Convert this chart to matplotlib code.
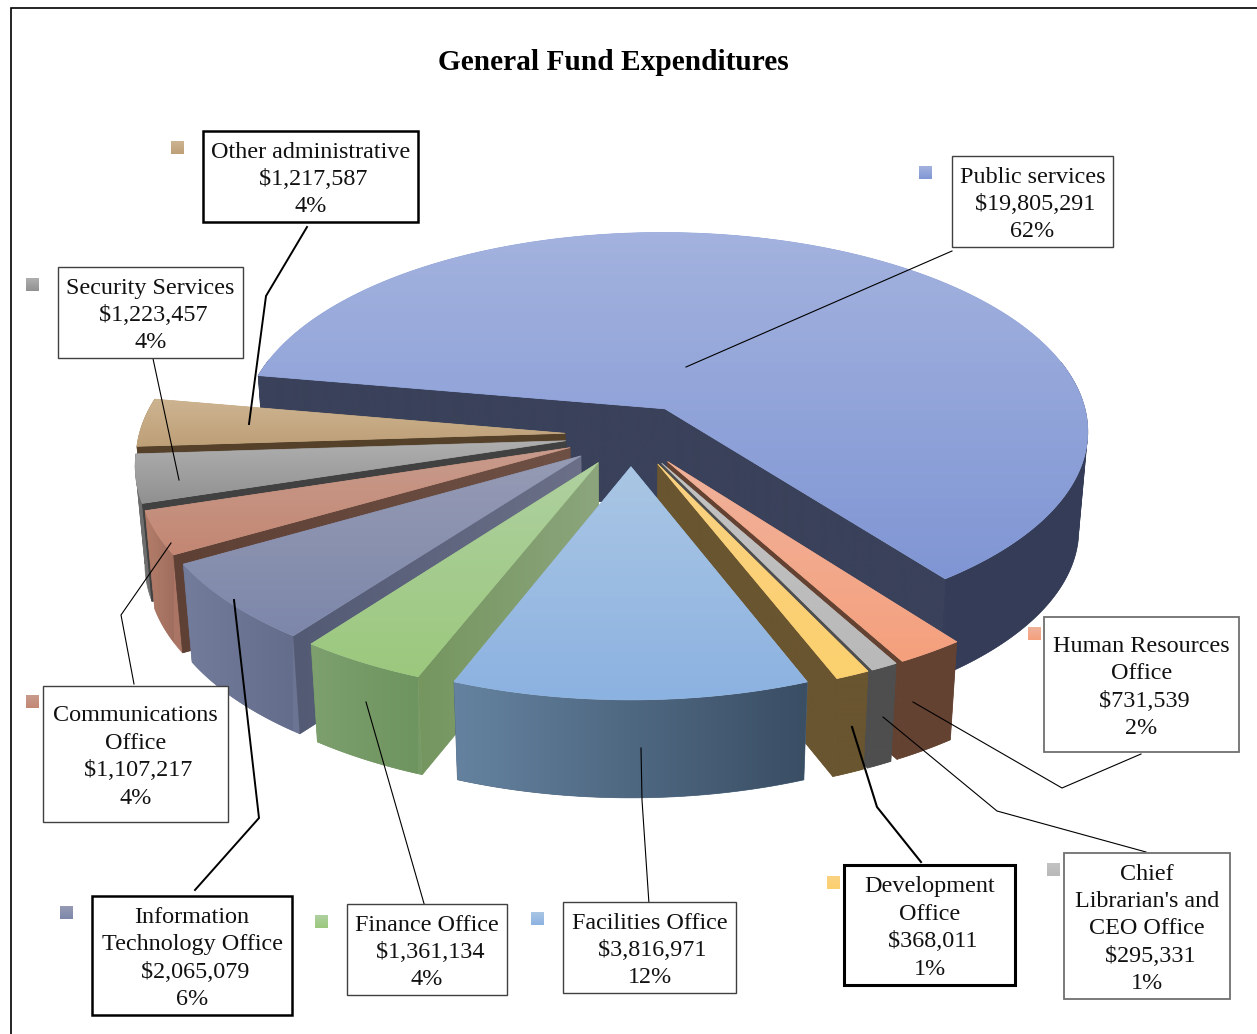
import numpy as np
import matplotlib
matplotlib.use('Agg')
from matplotlib import pyplot as plt
from matplotlib.patches import Polygon, Rectangle

plt.rcParams['font.family'] = ['Liberation Serif', 'DejaVu Serif']

# Data, in pie order (clockwise, Public services first)
names = ['Public services', 'Human Resources\nOffice', "Chief\nLibrarian's and\nCEO Office",
         'Development\nOffice', 'Facilities Office', 'Finance Office',
         'Information\nTechnology Office', 'Communications\nOffice',
         'Security Services', 'Other administrative']
values = [19805291, 731539, 295331, 368011, 3816971, 1361134, 2065079, 1107217, 1223457, 1217587]
percents = ['62%', '2%', '1%', '1%', '12%', '4%', '6%', '4%', '4%', '4%']

# Colours
top_light = ['#a3b2de', '#f0b29b', '#c3c3c3', '#fad282', '#aac6e4', '#afd0a0', '#969bb4', '#c89b8c', '#afafaf', '#cdb491']
top_dark = ['#8096d4', '#f5a07d', '#b9b9b9', '#fcd06e', '#8cb2e1', '#9bc87d', '#7d87aa', '#c38773', '#919191', '#bea078']
wall_left = ['#3a425a', '#644232', '#4e4e4e', '#69552f', '#64829f', '#7da06e', '#737d9b', '#b47d69', '#6e6e6e', '#96825a']
wall_right = ['#343c58', '#644232', '#4e4e4e', '#69552f', '#3a4e64', '#6e945f', '#646e8c', '#a06e5f', '#6e6e6e', '#96825a']
side_left = ['#3a415a', '#644232', '#4e4e4e', '#69552f', '#3a4e64', '#75965f', '#535a74', '#5f4035', '#414141', '#55412a']
side_right = ['#3a415a', '#644232', '#4e4e4e', '#69552f', '#3a4e64', '#8ca57d', '#6b7088', '#6e5045', '#414141', '#55412a']

# Layout in picture pixels
boxes = [(952, 156, 1113, 247), (1044, 617, 1239, 752), (1064, 853, 1230, 999), (844, 865, 1015, 985),
         (563, 902, 736, 993), (347, 904, 507, 995), (92, 896, 292, 1015), (43, 686, 228, 822),
         (58, 267, 243, 358), (203, 131, 418, 222)]
box_lw = [1, 1.3, 1.3, 2.2, 1, 1, 1.8, 1, 1, 1.8]
box_col = ['#404040', '#707070', '#707070', 'k', '#404040', '#404040', 'k', '#404040', '#404040', 'k']
leaders = [[(952, 251), (686, 367)], [(1141, 754), (1062, 788), (913, 702)],
           [(1146, 852), (997, 811), (883, 717)], [(921, 862), (877, 807), (852, 727)],
           [(649, 904), (642, 800), (641, 748)], [(425, 907), (366, 702)],
           [(195, 890), (259, 818), (234, 600)], [(134, 684), (121, 615), (171, 543)],
           [(152, 354), (179, 480)], [(307, 227), (266, 296), (249, 424)]]
leader_lw = [0.8, 0.8, 0.8, 1.5, 0.8, 0.8, 1.4, 0.8, 0.8, 1.4]
keys = [(919, 166), (1028, 627), (1047, 863), (827, 876), (531, 912), (315, 915), (60, 906), (26, 695), (26, 278), (171, 141)]

start_angle = -80.0
explode = 0.155
cx, cy = 631.0, 435.0
rx, ry = 426.0, 200.7
persp = 0.108
depth = 98.0
shrink = 0.02

# order the slices get painted in, back to front
paint_order = [0, 9, 8, 7, 6, 5, 1, 2, 3, 4]


def project(u, v, z=0.0):
    s = 1 / (1 - persp * v)
    return cx + rx * u * s / (1 + shrink * z), cy + ry * v * s + depth * z


def gradient(a, b, n=64):
    t = np.linspace(0, 1, n)[..., None]
    return np.array(matplotlib.colors.to_rgb(a)) * (1 - t) + np.array(matplotlib.colors.to_rgb(b)) * t


def fill_shape(outline, a, b, zorder, vertical=True, xrange=None):
    # polygon filled with a linear gradient, the image is clipped to the shape
    # a solid patch behind it smooths the edge, image clipping is not antialiased
    ramp = gradient(a, b)
    ax.add_patch(Polygon(outline, closed=True, facecolor=ramp[32], edgecolor=ramp[32], lw=0.5, zorder=zorder))
    ramp = ramp[:, None, :] if vertical else ramp[None, :, :]
    if xrange is None:
        xrange = (outline[:, 0].min(), outline[:, 0].max())
    ext = (xrange[0], xrange[1], outline[:, 1].max(), outline[:, 1].min())
    img = ax.imshow(ramp, aspect='auto', origin='upper', extent=ext, zorder=zorder + 0.5, interpolation='bilinear')
    clip = Polygon(outline, closed=True, transform=ax.transData, facecolor='none', edgecolor='none')
    ax.add_patch(clip)
    img.set_clip_path(clip)


fig = plt.figure(figsize=(12.57, 10.34), dpi=100)
ax = fig.add_axes([0, 0, 1, 1])

total = sum(values)
edges = start_angle + np.concatenate([[0], np.cumsum(values)]) / total * 360
z = 1
for i in paint_order:
    th = np.radians(np.linspace(edges[i], edges[i + 1], 400))
    mid = np.radians((edges[i] + edges[i + 1]) / 2)
    ax_u = explode * np.sin(mid)
    ax_v = -explode * np.cos(mid)
    x0, y0 = project(ax_u + np.sin(th), ax_v - np.cos(th), 0)
    x1, y1 = project(ax_u + np.sin(th), ax_v - np.cos(th), 1)
    apex0 = project(ax_u, ax_v, 0)
    apex1 = project(ax_u, ax_v, 1)

    # outer wall, cut where the rim turns so the pieces stay simple shapes
    front = -np.cos(th) > -0.25
    turn = np.sign(np.diff(x0, prepend=x0[0] - (x0[1] - x0[0])))
    cuts = np.flatnonzero((front[1:] != front[:-1]) | (turn[1:] != turn[:-1])) + 1
    for run in np.split(np.arange(len(th)), cuts):
        if len(run) > 1 and front[run[0]]:
            # one point of overlap so no seam is left at the cut
            run = np.append(run, min(run[-1] + 1, len(th) - 1))
            band = np.vstack([np.column_stack([x0[run], y0[run]]), np.column_stack([x1[run], y1[run]])[::-1]])
            fill_shape(band, wall_left[i], wall_right[i], z, vertical=False, xrange=(x0.min(), x0.max()))
            z += 1

    # radial walls, only the ones that face the viewer
    for e, facing in ((0, -np.sin(th[0])), (-1, np.sin(th[-1]))):
        if facing > 0:
            wall = np.array([apex0, (x0[e], y0[e]), (x1[e], y1[e]), apex1])
            fill_shape(wall, side_left[i], side_right[i], z, vertical=False)
            z += 1

    # top face
    outline = np.vstack([[apex0], np.column_stack([x0, y0])])
    fill_shape(outline, top_light[i], top_dark[i], z)
    z += 1

# leader lines, boxes and labels
for i in range(len(names)):
    pts = np.array(leaders[i])
    ax.plot(pts[:, 0], pts[:, 1], color='k', lw=leader_lw[i], zorder=z + 1, solid_joinstyle='miter')
    bx0, by0, bx1, by1 = boxes[i]
    ax.add_patch(Rectangle((bx0, by0), bx1 - bx0, by1 - by0, facecolor='white', edgecolor=box_col[i], lw=box_lw[i], zorder=z + 2))
    # the leading space pushes the amount a little right, as in the original labels
    label = '{}\n ${:,}\n{}'.format(names[i], values[i], percents[i])
    ax.text((bx0 + bx1) / 2, (by0 + by1) / 2 + 3, label, ha='center', va='center', fontsize=17.4, linespacing=1.4,
            color='#111111', zorder=z + 3)
    kx, ky = keys[i]
    ax.imshow(gradient(top_light[i], top_dark[i])[:, None, :], aspect='auto', origin='upper',
              extent=(kx, kx + 13, ky + 13, ky), zorder=z + 3)

ax.text(613, 63, 'General Fund Expenditures', ha='center', va='center', fontsize=21.2, fontweight='bold', color='k')

# chart frame, cut off at the right and the bottom
ax.plot([11, 11, 1257], [1034, 8, 8], color='k', lw=1.2, solid_joinstyle='miter', zorder=z + 4)

ax.set_xlim(0, 1257)
ax.set_ylim(1034, 0)
ax.axis('off')
fig.savefig('out.png', dpi=100, facecolor='white')
plt.close()
